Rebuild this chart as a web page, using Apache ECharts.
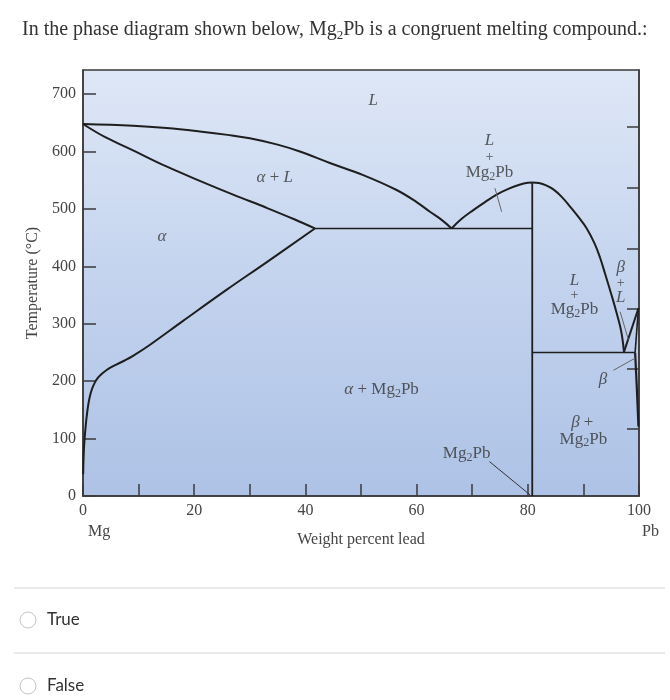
<!DOCTYPE html>
<html>
<head>
<meta charset="utf-8">
<script src="https://cdn.jsdelivr.net/npm/echarts@6.0.0/dist/echarts.min.js"></script>
<style>
html,body{margin:0;padding:0;background:#fff;}
#chart{width:670px;height:700px;}
</style>
</head>
<body>
<div id="chart"></div>
<script>
// ---- data (weight % Pb, temperature °C) ----
const yTickValues = [0, 100, 200, 300, 400, 500, 600, 700];
const rightTickValues = [117, 221, 326, 430, 537, 643];
const liquidusAlpha = [[0,648],[9,645],[15,641],[21,635],[26,629],[30,623],[35,612],[39,600],[44.4,580],[50.4,559],[56.4,533],[60,512],[62.4,495],[64.5,481],[66.3,466]];
const solidusAlpha = [[0,648],[4,625],[9,602],[15,574],[21,549],[27,525],[33,502],[38,482],[41.7,466]];
const solvusAlpha = [[41.7,466],[33,407],[25.8,359],[18,305],[12,263],[9,244],[7.5,236],[6,229],[5,224],[4.2,219],[3.4,213],[2.7,206],[2.1,197],[1.6,186],[1.2,172],[0.9,156],[0.6,133],[0.4,113],[0.25,95],[0.15,78],[0.08,60],[0.03,38]];
const eutecticAlpha = [[41.7,466],[80.8,466]];
const liquidusMg2PbLeft = [[66.3,466],[68,482],[70.2,498],[72.3,512],[74.4,525],[76.5,535],[78.5,542],[80,545.5],[80.8,546]];
const liquidusMg2PbRight = [[80.8,546],[82,545],[83.3,541],[84.6,534],[86.1,521],[87.6,504],[89.1,486],[90.6,466],[92,440],[93,415],[93.9,387],[95,352],[96,318],[96.8,287],[97.3,251]];
const mg2pbLine = [[80.8,0],[80.8,546]];
const eutecticBeta = [[80.8,250],[99.3,250]];
const liquidusBeta = [[97.3,251],[99.9,327]];
const solidusBeta = [[99.3,250],[99.9,327]];
const solvusBeta = [[99.3,250],[99.6,190],[99.9,121]];
const leaderLines = [
  [[74.1,536],[75.3,495]],
  [[96.6,321],[98.1,272]],
  [[95.4,219],[99.3,240]],
  [[73.1,60],[80.4,2]]
];
// region labels: [x, y, text]
const regionLabels = [
  [52.2, 688, '{i|L}'],
  [73.1, 620, '{i|L}'],
  [73.1, 590, '{p|+}'],
  [73.1, 563, '{m|Mg}{s|2}{m|Pb}'],
  [34.5, 554, '{i|α}{m| + }{i|L}'],
  [14.2, 452, '{i|α}'],
  [53.7, 185, '{i|α}{m| + Mg}{s|2}{m|Pb}'],
  [69.0, 74, '{m|Mg}{s|2}{m|Pb}'],
  [88.4, 376, '{i|L}'],
  [88.4, 349, '{p|+}'],
  [88.4, 324, '{m|Mg}{s|2}{m|Pb}'],
  [96.7, 398, '{i|β}'],
  [96.7, 371, '{p|+}'],
  [96.7, 345, '{i|L}'],
  [93.5, 203, '{i|β}'],
  [89.8, 128, '{i|β}{m| +}'],
  [90.0, 99, '{m|Mg}{s|2}{m|Pb}']
];

const SERIF = '"Liberation Serif", "DejaVu Serif", serif';
const ink = '#1e1e1e';
const chart = echarts.init(document.getElementById('chart'), null, {renderer: 'canvas'});

function boundary(data, w, smooth) {
  return {
    type: 'line', data: data, showSymbol: false, symbol: 'none', silent: true,
    smooth: smooth || false,
    lineStyle: {color: ink, width: w || 2}, z: 3, animation: false
  };
}
const series = [
  boundary(liquidusAlpha, 2, 0.4),
  boundary(solidusAlpha, 2, 0.4),
  boundary(solvusAlpha, 2, 0.4),
  boundary(eutecticAlpha, 1.6),
  boundary(liquidusMg2PbLeft, 2, 0.4),
  boundary(liquidusMg2PbRight, 2, 0.4),
  boundary(mg2pbLine, 1.8),
  boundary(eutecticBeta, 1.6),
  boundary(liquidusBeta),
  boundary(solidusBeta, 1.6),
  boundary(solvusBeta, 2.2, 0.3)
];
leaderLines.forEach(function (l, i) {
  series.push({
    type: 'line', data: l, showSymbol: false, symbol: 'none', silent: true, animation: false,
    lineStyle: {color: i === 3 ? '#333' : '#666', width: 1}, z: 3
  });
});
const rich = {
  i: {fontFamily: SERIF, fontStyle: 'italic', fontSize: 17, color: '#333', lineHeight: 20},
  m: {fontFamily: SERIF, fontSize: 17, color: '#333', lineHeight: 20},
  p: {fontFamily: SERIF, fontSize: 14, color: '#333', lineHeight: 20},
  s: {fontFamily: SERIF, fontSize: 12, color: '#333', lineHeight: 10, verticalAlign: 'bottom'}
};
series.push({
  type: 'scatter', symbolSize: 0, silent: true, animation: false, z: 5,
  data: regionLabels.map(function (r) {
    return {value: [r[0], r[1]], label: {formatter: r[2]}};
  }),
  label: {show: true, position: 'inside', rich: rich}
});

const option = {
  animation: false,
  backgroundColor: '#ffffff',
  title: {
    left: 17, top: 13,
    text: '{t|In the phase diagram shown below, Mg}{s|2}{t|Pb is a congruent melting compound.:}',
    textStyle: {
      fontWeight: 'normal',
      rich: {
        t: {fontFamily: SERIF, fontSize: 20, fontWeight: 'normal', color: '#333', lineHeight: 24},
        s: {fontFamily: SERIF, fontSize: 13, fontWeight: 'normal', color: '#333', lineHeight: 12, verticalAlign: 'bottom'}
      }
    }
  },
  grid: {
    left: 83, right: 31, top: 70, bottom: 204,
    show: true, borderColor: '#3a3a3a', borderWidth: 1.5,
    backgroundColor: {
      type: 'linear', x: 0, y: 0, x2: 0, y2: 1,
      colorStops: [{offset: 0, color: '#dee7f6'}, {offset: 0.5, color: '#c3d3ee'}, {offset: 1, color: '#adc2e6'}]
    }
  },
  xAxis: {
    type: 'value', min: 0, max: 100, interval: 10,
    name: 'Weight percent lead', nameLocation: 'middle', nameGap: 36,
    nameTextStyle: {fontFamily: SERIF, fontSize: 16, color: '#444'},
    axisLine: {show: true, lineStyle: {color: '#3a3a3a', width: 1.5}},
    axisTick: {show: true, inside: true, length: 12, lineStyle: {color: '#3a3a3a', width: 1.5}},
    axisLabel: {
      margin: 7, fontFamily: SERIF, fontSize: 16, color: '#444',
      formatter: function (v) { return v % 20 === 0 ? String(v) : ''; }
    },
    splitLine: {show: false}
  },
  yAxis: [{
    type: 'value', min: 0, max: 742,
    name: 'Temperature (°C)', nameLocation: 'middle', nameGap: 42, nameRotate: 90,
    nameTextStyle: {fontFamily: SERIF, fontSize: 16, color: '#444'},
    axisLine: {show: true, lineStyle: {color: '#3a3a3a', width: 1.5}},
    axisTick: {show: true, inside: true, length: 13, customValues: yTickValues, lineStyle: {color: '#3a3a3a', width: 1.5}},
    axisLabel: {margin: 7, fontFamily: SERIF, fontSize: 16, color: '#444', customValues: yTickValues},
    splitLine: {show: false}
  }, {
    type: 'value', min: 0, max: 742, position: 'right',
    axisLine: {show: true, lineStyle: {color: '#3a3a3a', width: 1.5}},
    axisTick: {show: true, inside: true, length: 12, customValues: rightTickValues, lineStyle: {color: '#3a3a3a', width: 1.5}},
    axisLabel: {show: false},
    splitLine: {show: false}
  }],
  graphic: [
    {type: 'text', left: 88, top: 524, silent: true,
      style: {text: 'Mg', fontFamily: SERIF, fontSize: 16, fill: '#444'}},
    {type: 'text', left: 642, top: 524, silent: true,
      style: {text: 'Pb', fontFamily: SERIF, fontSize: 16, fill: '#444'}},
    {type: 'line', silent: true, shape: {x1: 14, y1: 588, x2: 665, y2: 588}, style: {stroke: '#e3e3e3', lineWidth: 1.5}},
    {type: 'circle', silent: true, shape: {cx: 28, cy: 620, r: 8}, style: {fill: '#fff', stroke: '#c4c4c4', lineWidth: 1}},
    {type: 'text', silent: true, x: 47, y: 620, style: {text: 'True', fontFamily: 'Lato', fontSize: 17, fill: '#333', verticalAlign: 'middle'}},
    {type: 'line', silent: true, shape: {x1: 14, y1: 653, x2: 665, y2: 653}, style: {stroke: '#e3e3e3', lineWidth: 1.5}},
    {type: 'circle', silent: true, shape: {cx: 28, cy: 686, r: 8}, style: {fill: '#fff', stroke: '#c4c4c4', lineWidth: 1}},
    {type: 'text', silent: true, x: 47, y: 686, style: {text: 'False', fontFamily: 'Lato', fontSize: 17, fill: '#333', verticalAlign: 'middle'}}
  ],
  series: series
};
chart.setOption(option);
</script>
</body>
</html>
